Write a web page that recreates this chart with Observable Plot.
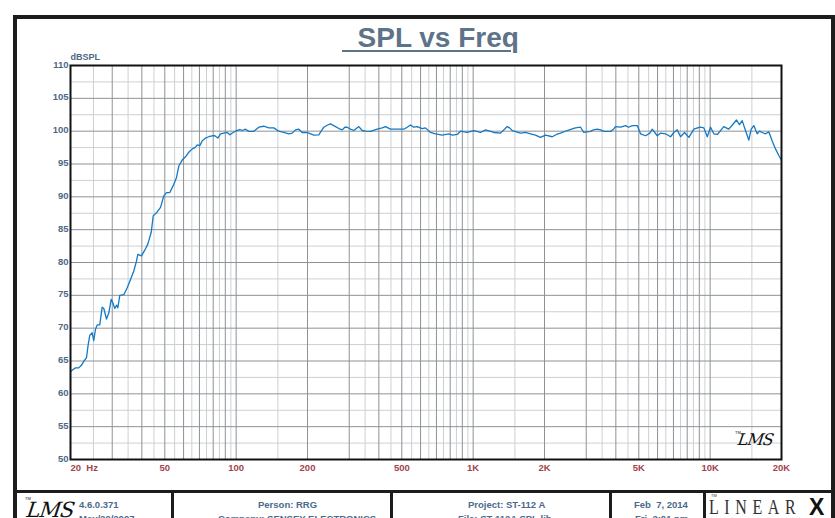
<!DOCTYPE html>
<html>
<head>
<meta charset="utf-8">
<script src="https://cdn.jsdelivr.net/npm/d3@7"></script>
<script src="https://cdn.jsdelivr.net/npm/@observablehq/plot@0.6"></script>
<style>
  body { margin: 0; background: #fff; }
  #wrap { position: relative; width: 835px; height: 518px; overflow: hidden; background: #fff; font-family: "Liberation Sans", Arial, sans-serif; }
  #wrap svg { position: absolute; left: 0; top: 0; }
  .abs { position: absolute; white-space: pre; }
  .ln { position: absolute; background: #1c1c1c; }
  .ft { position: absolute; white-space: pre; font-size: 9.5px; line-height: 9.5px; font-weight: bold; color: #4a6a8c; }
</style>
</head>
<body>
<div id="wrap"></div>
<script>
// Frequency (Hz) and SPL (dB)
const freq = [20,20.53,20.99,21.67,22.19,22.76,23.36,23.75,24.12,24.68,25.07,25.49,25.91,26.58,27.21,27.64,28.37,29.01,29.7,30.28,30.76,31.27,31.67,32.29,33.57,34.7,35.83,36.99,37.97,38.46,39.86,41.04,42.39,43.82,44.67,46.44,47.96,49.52,50.84,52.49,54.57,56.03,57.3,59.22,61.15,63.15,65.27,66.94,68.52,70.27,71.93,74.27,76.68,79.26,81.3,83.69,85.92,88.73,91.71,94,97.2,100.4,103.6,106.4,109.5,113.1,118.7,124.6,130.8,137.3,144.2,151.3,158.9,166.8,172.4,178,183.8,189.9,196.2,202.6,212.6,223.2,234.3,242.2,250.1,262.6,271.2,280.3,287.4,294.2,303.8,313.7,329.3,340.3,351.4,368.9,393.7,413.3,426.8,448,478.1,509.8,526.8,543.9,561.6,580.5,609.4,629.3,660.6,693.5,740.3,789.6,818.5,856.7,884.7,944,1006.9,1074,1127.7,1222.8,1304.9,1392.5,1423.9,1461.8,1583.9,1662.8,1745.6,1832.6,1923.6,2019.5,2155.4,2247,2336.4,2493.6,2600,2703,2838,2930,3128,3220,3338,3447,3559,3800,3912,3989,4188,4396,4526,4691,4924,5085,5338,5566,5697,5980,6176,6483,6805,7028,7263,7500,7798,8131,8535,8848,9108,9406,9722,10038,10365,10740,11414,11982,12386,12914,13297,13651,14096,14556,14901,15281,15795,16153,16582,17122,17679,18275,18870,19481,20000];
const spl = [63.4,63.7,63.95,63.95,64.3,64.95,65.5,67.5,68.9,69.3,68.1,69.8,70.5,70.5,73.2,73.0,71.4,72.3,74.4,73.7,73.0,73.5,73.1,75.0,75.1,76.15,77.4,78.7,80.2,81.25,81.0,81.8,82.8,84.6,87.1,87.7,88.4,90.15,90.65,90.65,91.9,92.95,94.7,95.6,96.1,96.8,97.3,97.5,97.9,97.8,98.55,98.95,99.15,99.3,99.3,98.95,99.6,99.7,99.8,99.45,99.8,100.1,100.25,100.1,100.3,99.97,99.97,100.6,100.75,100.5,100.5,100.0,99.8,99.6,99.7,100.2,100.3,99.8,99.8,99.7,99.4,99.45,100.6,100.9,101.1,100.7,100.4,100.2,100.6,100.6,100.3,100.1,100.7,100.1,100.0,99.97,100.3,100.5,100.7,100.3,100.3,100.3,100.6,100.95,100.6,100.7,100.4,100.5,99.8,99.6,99.4,99.6,99.4,99.5,100.0,99.8,100.1,99.8,100.2,99.8,99.7,100.7,100.5,100.1,99.7,99.8,99.6,99.4,99.05,99.4,99.15,99.5,99.7,100.1,100.3,100.5,100.6,99.8,99.97,100.2,100.3,100.2,99.97,99.97,100.3,100.7,100.6,100.85,100.6,100.85,100.85,99.6,99.3,99.7,100.3,99.3,99.7,99.6,99.15,99.8,100.2,99.15,99.8,99.05,100.3,100.5,100.6,100.5,99.15,100.6,99.6,99.5,100.7,100.3,100.9,101.7,101.0,101.6,100.1,98.65,100.3,100.85,99.6,100.0,99.8,99.6,99.9,98.5,97.3,96.3,95.6];

// Axis ticks and grid positions
const xTickVals = [20,50,100,200,500,1000,2000,5000,10000,20000];
const xTickLabels = ["20\u00a0\u00a0Hz","50","100","200","500","1K","2K","5K","10K","20K"];
const yTickVals = [50,55,60,65,70,75,80,85,90,95,100,105,110];
const gridXMajor = [30,40,50,60,70,80,90,100,200,300,400,500,600,700,800,900,1000,2000,3000,4000,5000,6000,7000,8000,9000,10000];
const gridXMinor = [25,35,45,55,65,75,85,95,150,350,450,550,650,750,850,950,1500,3500,4500,5500,6500,7500,8500,9500,15000];
const gridYMajor = [55,60,65,70,75,80,85,90,95,100,105];
const gridYMinor = [52.5,57.5,62.5,67.5,72.5,77.5,82.5,87.5,92.5,97.5,102.5,107.5];

const curve = freq.map((f, i) => ({f, db: spl[i]}));
const xt = xTickVals.map((v, i) => ({v, t: xTickLabels[i]}));

const light = "#cdd0d3", dark = "#8d9296";
const chart = Plot.plot({
  width: 835, height: 518,
  marginLeft: 70, marginRight: 54, marginTop: 65, marginBottom: 59,
  style: {fontFamily: "Liberation Sans, Arial, sans-serif", background: "transparent", overflow: "visible"},
  x: {type: "log", domain: [20, 20000], axis: null},
  y: {domain: [50, 110], axis: null},
  marks: [
    Plot.ruleY(gridYMinor, {stroke: light, strokeWidth: 1}),
    Plot.ruleX(gridXMinor, {stroke: light, strokeWidth: 1}),
    Plot.ruleY(gridYMajor, {stroke: dark, strokeWidth: 1}),
    Plot.ruleX(gridXMajor, {stroke: dark, strokeWidth: 1}),
    Plot.line(curve, {x: "f", y: "db", stroke: "#1479c4", strokeWidth: 1.3}),
    Plot.frame({stroke: "#111", strokeWidth: 2}),
    Plot.text(xt.slice(0, 1), {x: "v", y: () => 50, text: "t", dy: 8, textAnchor: "start", lineAnchor: "middle", fill: "#a3434b", fontWeight: "bold", fontSize: 9.5}),
    Plot.text(xt.slice(1), {x: "v", y: () => 50, text: "t", dy: 8, lineAnchor: "middle", fill: "#a3434b", fontWeight: "bold", fontSize: 9.5}),
    Plot.text(yTickVals, {x: () => 20, y: d => d, text: d => String(d), dx: -2, dy: -1, textAnchor: "end", lineAnchor: "middle", fill: "#4d6886", fontWeight: "bold", fontSize: 9.5}),
    Plot.text(["dBSPL"], {x: () => 20, y: () => 110, text: d => d, dy: -8, textAnchor: "start", lineAnchor: "middle", fill: "#4d6886", fontWeight: "bold", fontSize: 9})
  ]
});
const wrap = document.getElementById("wrap");
wrap.appendChild(chart);

const html = `
<div class="ln" style="left:13px;top:15px;width:822px;height:4px"></div>
<div class="ln" style="left:13px;top:15px;width:4px;height:510px"></div>
<div class="ln" style="left:831px;top:15px;width:4px;height:510px"></div>
<div class="ln" style="left:13px;top:490px;width:822px;height:3px"></div>
<div class="ln" style="left:171px;top:490px;width:3px;height:30px"></div>
<div class="ln" style="left:390px;top:490px;width:3px;height:30px"></div>
<div class="ln" style="left:609px;top:490px;width:3px;height:30px"></div>
<div class="ln" style="left:703px;top:490px;width:3px;height:30px"></div>
<div class="abs" style="left:342px;top:24px;font-size:28px;line-height:28px;font-weight:bold;color:#5d7389;text-decoration:underline;text-decoration-thickness:2px;text-underline-offset:3px">  SPL vs Freq</div>
<div class="abs" style="left:738px;top:432px;font-family:'DejaVu Serif',serif;font-style:italic;font-size:16px;line-height:16px;color:#111;letter-spacing:-1px;transform:skewX(-8deg)">LMS</div>
<div class="abs" style="left:735px;top:431px;font-size:4px;line-height:4px;color:#111">TM</div>
<div class="abs" style="left:27px;top:500px;font-family:'DejaVu Serif',serif;font-style:italic;font-size:21px;line-height:21px;color:#111;letter-spacing:-1px;transform:skewX(-8deg)">LMS</div>
<div class="abs" style="left:25px;top:497px;font-size:4px;line-height:4px;color:#111">TM</div>
<div class="ft" style="left:79px;top:499.5px">4.6.0.371</div>
<div class="ft" style="left:79px;top:513.5px">May/29/2007</div>
<div class="ft" style="left:258px;top:499.5px">Person: RRG</div>
<div class="ft" style="left:218px;top:513.5px">Company: SENSEY ELECTRONICS</div>
<div class="ft" style="left:468px;top:499.5px">Project: ST-112 A</div>
<div class="ft" style="left:458px;top:513.5px">File: ST-112A SPL.lib</div>
<div class="ft" style="left:634px;top:499.5px">Feb  7, 2014</div>
<div class="ft" style="left:635px;top:513.5px">Fri  2:01 pm</div>
<div class="abs" style="left:709px;top:497px;font-family:'Liberation Serif',serif;font-size:20px;line-height:20px;color:#333;letter-spacing:7px;transform-origin:0 0;transform:scaleX(0.8)">LINEAR</div>
<div class="abs" style="left:809px;top:496px;font-family:'Liberation Sans',sans-serif;font-weight:900;font-size:23px;line-height:22px;color:#111">X</div>
<div class="abs" style="left:711px;top:494px;font-size:4px;line-height:4px;color:#333">TM</div>
`;
wrap.insertAdjacentHTML("beforeend", html);
</script>
</body>
</html>
